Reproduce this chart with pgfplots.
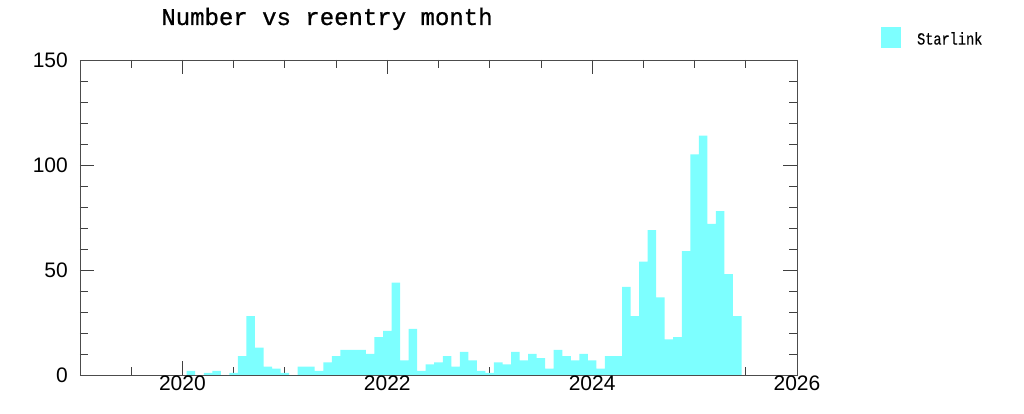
\documentclass[border=0pt]{standalone}
\usepackage{fontspec}
\setmainfont{Liberation Mono}
\newfontfamily\sansf{Liberation Sans}
\newfontfamily\monob[FakeBold=0.8]{Liberation Mono}
\newfontfamily\monol[FakeBold=0.4,FakeStretch=0.8]{Liberation Mono}
\usepackage{pgfplots}
\pgfplotsset{compat=1.18}
\definecolor{starcyan}{RGB}{125,255,255}
\begin{document}
\begin{tikzpicture}
\useasboundingbox (-80pt,-39pt) rectangle (944pt,375pt);
\begin{axis}[
  at={(0pt,0pt)}, anchor=south west,
  scale only axis, width=717pt, height=315pt,
  xmin=-12, xmax=72, ymin=0, ymax=150,
  xtick={0,24,48,72}, xticklabels={2020,2022,2024,2026},
  minor xtick={-6,6,12,18,30,36,42,54,60,66},
  ytick={0,50,100,150},
  minor ytick={10,20,30,40,60,70,80,90,110,120,130,140},
  tick align=inside,
  major tick length=14pt, minor tick length=8pt,
  every tick/.style={black!75, line width=0.8pt},
  axis line style={black!70, line width=0.9pt},
  /pgf/number format/assume math mode=true,
  ticklabel style={font=\sansf\fontsize{21}{21}\selectfont},
  xticklabel style={inner sep=0pt, yshift=-1pt},
  yticklabel style={inner sep=0pt, xshift=-12pt},
  legend style={at={(1.117,1.071)}, anchor=west, draw=none, fill=none,
    inner sep=0pt, font=\monol\fontsize{17}{20}\selectfont,
    nodes={inner sep=0pt}},
  legend cell align=left,
  legend image code/.code={\fill[starcyan] (0pt,-9pt) rectangle (20pt,12pt); \path (36pt,0pt);},
]
\addplot[ybar, bar width=1, bar shift=0pt, fill=starcyan, draw=none] coordinates {
(1,2) (3,1) (4,2) (6,1) (7,9) (8,28) (9,13) (10,4) (11,3) (12,1)
(14,4) (15,4) (16,2) (17,6) (18,9) (19,12) (20,12) (21,12) (22,10) (23,18)
(24,21) (25,44) (26,7) (27,22) (28,2) (29,5) (30,6) (31,9) (32,4) (33,11)
(34,7) (35,2) (36,1) (37,6) (38,5) (39,11) (40,7) (41,10) (42,8) (43,3)
(44,12) (45,9) (46,7) (47,10) (48,7) (49,3) (50,9) (51,9) (52,42) (53,28)
(54,54) (55,69) (56,37) (57,17) (58,18) (59,59) (60,105) (61,114) (62,72) (63,78)
(64,48) (65,28)
};
\addlegendentry{Starlink}
\end{axis}
\node[anchor=base, font=\monob\fontsize{24}{28}\selectfont] at (247pt,350pt) {Number vs reentry month};
\end{tikzpicture}
\end{document}
